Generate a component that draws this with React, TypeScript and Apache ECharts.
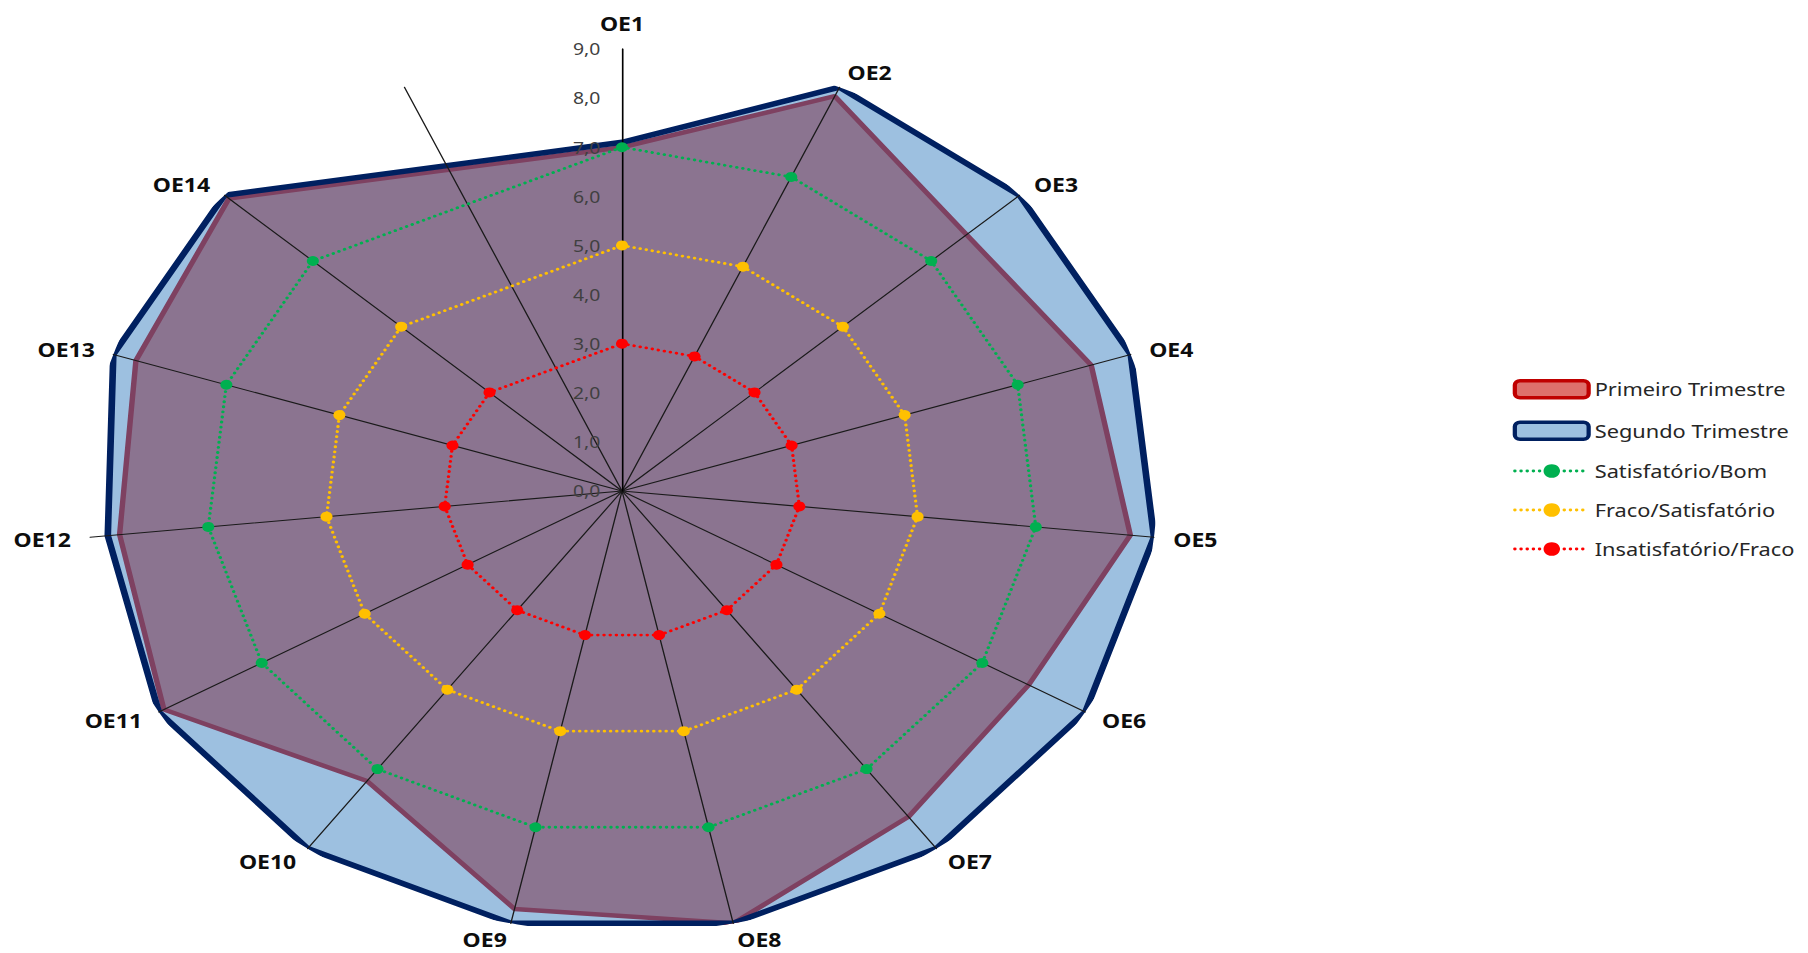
import React, { useEffect, useRef } from 'react';
import * as echarts from 'echarts';

// ---- data ----
const CATEGORIES = ['OE1', 'OE2', 'OE3', 'OE4', 'OE5', 'OE6', 'OE7', 'OE8', 'OE9', 'OE10', 'OE11', 'OE12', 'OE13', 'OE14', ''];
const PRIMEIRO = [7.0, 8.8, 7.8, 8.3, 8.6, 7.9, 8.2, 9.0, 8.7, 7.3, 8.9, 8.5, 8.6, 8.9];
const SEGUNDO = [7.1, 9.0, 9.0, 9.0, 9.0, 9.0, 9.0, 9.0, 9.0, 9.0, 9.0, 8.7, 9.0, 9.0];
const SATISFATORIO_BOM = [7, 7, 7, 7, 7, 7, 7, 7, 7, 7, 7, 7, 7, 7];
const FRACO_SATISFATORIO = [5, 5, 5, 5, 5, 5, 5, 5, 5, 5, 5, 5, 5, 5];
const INSATISFATORIO_FRACO = [3, 3, 3, 3, 3, 3, 3, 3, 3, 3, 3, 3, 3, 3];
const VALUE_MIN = 0;
const VALUE_MAX = 9;
const VALUE_STEP = 1;
const SERIES_NAMES = ['Primeiro Trimestre', 'Segundo Trimestre', 'Satisfatório/Bom', 'Fraco/Satisfatório', 'Insatisfatório/Fraco'];

// ---- layout ----
const PAGE_W = 1808;
const PAGE_H = 953;
const STRETCH = 1.21;
const INNER_W = Math.round(PAGE_W / STRETCH);
const CENTER: [number, number] = [514, 491];
const RADIUS = 442;
const FONT = "'Noto Sans', 'DejaVu Sans', sans-serif";

// radar (ECharts) lays indicators counter-clockwise, the chart runs clockwise
const RADAR_ORDER = [CATEGORIES[0], ...CATEGORIES.slice(1).reverse()];
const N_AXES = CATEGORIES.length;

// polygon through the category positions, closed back on the first one (a full turn)
function loop(values: number[]) {
  const pts: any[] = values.map((v, i) => [v, i]);
  return [...pts, { value: [values[0], N_AXES], symbol: 'none' }];
}

export default function App() {
  const ref = useRef<HTMLDivElement>(null);
  useEffect(() => {
    document.body.style.margin = '0';
    if (!ref.current) return;
    const chart = echarts.init(ref.current, null, { renderer: 'svg' });
    const threshold = (name: string, values: number[], color: string) => ({
      name,
      type: 'line',
      coordinateSystem: 'polar',
      data: loop(values),
      symbol: 'circle',
      symbolSize: 10,
      showSymbol: true,
      showAllSymbol: true,
      clip: false,
      silent: true,
      z: 5,
      lineStyle: { color, width: 2.8, type: [0.1, 5], cap: 'round' },
      itemStyle: { color, borderWidth: 0 },
    });
    chart.setOption({
      animation: false,
      backgroundColor: '#ffffff',
      textStyle: { fontFamily: FONT },
      radar: {
        z: 3.5,
        center: CENTER,
        radius: RADIUS,
        startAngle: 90,
        splitNumber: 9,
        nameGap: 16,
        indicator: RADAR_ORDER.map((name) => ({ name, min: VALUE_MIN, max: VALUE_MAX })),
        axisName: { color: '#0d0d0d', fontSize: 19, fontWeight: 'bold', fontFamily: FONT },
        axisLine: { show: true, lineStyle: { color: '#1a1a1a', width: 1.1 } },
        splitLine: { show: false },
        splitArea: { show: false },
        axisTick: { show: false },
        axisLabel: { show: false },
      },
      polar: { center: CENTER, radius: RADIUS },
      angleAxis: {
        type: 'value',
        min: 0,
        max: N_AXES,
        startAngle: 90,
        clockwise: true,
        axisLine: { show: false },
        axisTick: { show: false },
        axisLabel: { show: false },
        splitLine: { show: false },
      },
      radiusAxis: {
        type: 'value',
        min: VALUE_MIN,
        max: VALUE_MAX,
        interval: VALUE_STEP,
        z: 4,
        axisLine: { show: true, lineStyle: { color: '#000000', width: 1.2 } },
        axisTick: { show: false },
        splitLine: { show: false },
        axisLabel: {
          show: true,
          margin: 18,
          fontSize: 16,
          color: '#404040',
          fontFamily: FONT,
          formatter: (v: number) => v.toFixed(1).replace('.', ','),
        },
      },
      legend: {
        orient: 'vertical',
        left: 1250,
        top: 379,
        padding: 0,
        itemWidth: 61,
        itemHeight: 17,
        itemGap: 21,
        selectedMode: false,
        textStyle: { fontSize: 18, color: '#262626', fontFamily: FONT },
        lineStyle: { width: 2.8 },
        data: [
          { name: SERIES_NAMES[0], icon: 'roundRect', itemStyle: { color: 'rgb(222,112,108)', borderColor: '#C00000', borderWidth: 3.5 } },
          { name: SERIES_NAMES[1], icon: 'roundRect', itemStyle: { color: 'rgba(59,129,193,0.5)', borderColor: '#002060', borderWidth: 3.5 } },
          SERIES_NAMES[2],
          SERIES_NAMES[3],
          SERIES_NAMES[4],
        ],
      },
      series: [
        {
          name: SERIES_NAMES[0],
          type: 'line',
          coordinateSystem: 'polar',
          data: loop(PRIMEIRO),
          symbol: 'none',
          clip: false,
          silent: true,
          z: 2,
          lineStyle: { color: '#C00000', width: 4.5 },
          itemStyle: { color: '#C00000' },
          areaStyle: { color: 'rgb(219,103,95)', opacity: 1 },
        },
        {
          name: SERIES_NAMES[1],
          type: 'line',
          coordinateSystem: 'polar',
          data: loop(SEGUNDO),
          symbol: 'none',
          clip: false,
          silent: true,
          z: 3,
          lineStyle: { color: '#002060', width: 5.5 },
          itemStyle: { color: '#002060' },
          areaStyle: { color: 'rgb(59,129,193)', opacity: 0.5 },
        },
        threshold(SERIES_NAMES[2], SATISFATORIO_BOM, '#00B050'),
        threshold(SERIES_NAMES[3], FRACO_SATISFATORIO, '#FFC000'),
        threshold(SERIES_NAMES[4], INSATISFATORIO_FRACO, '#FF0000'),
      ],
    });
    return () => chart.dispose();
  }, []);
  return (
    <div style={{ width: PAGE_W, height: PAGE_H, overflow: 'hidden', background: '#fff' }}>
      <div
        ref={ref}
        style={{ width: INNER_W, height: PAGE_H, transform: `scaleX(${PAGE_W / INNER_W})`, transformOrigin: '0 0' }}
      />
    </div>
  );
}
